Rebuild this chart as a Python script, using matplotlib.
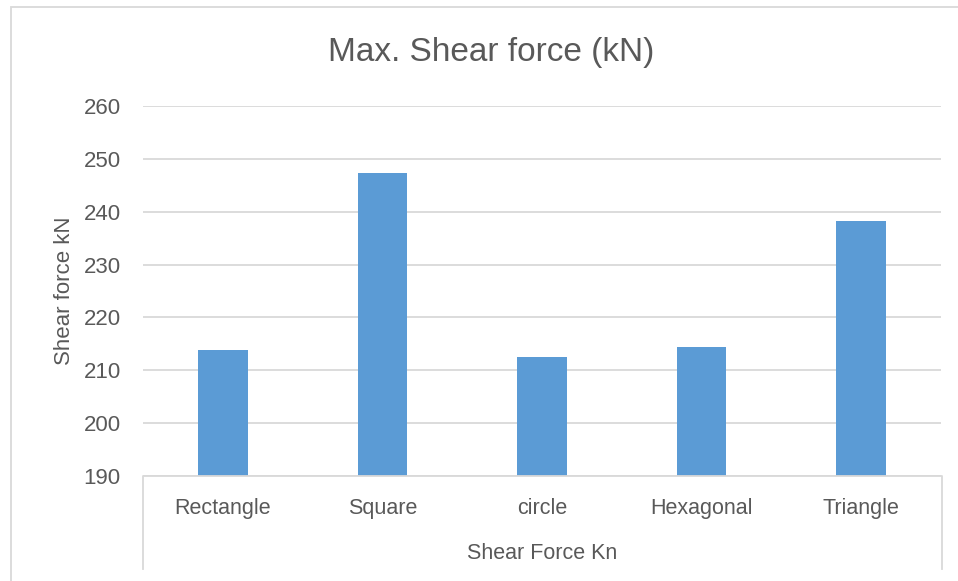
import matplotlib.pyplot as plt
from matplotlib.patches import Rectangle
from matplotlib.lines import Line2D
from matplotlib import font_manager

shapes = ['Rectangle', 'Square', 'circle', 'Hexagonal', 'Triangle']
shear = [213.8, 247.3, 212.5, 214.4, 238.2]
yticks = [190, 200, 210, 220, 230, 240, 250, 260]

names = {f.name for f in font_manager.fontManager.ttflist}
fam = 'Liberation Sans Narrow' if 'Liberation Sans Narrow' in names else 'Liberation Sans'
plt.rcParams['font.family'] = [fam, 'DejaVu Sans']

txt = '#595959'
grid = '#d9d9d9'
W, H = 958, 581

fig = plt.figure(figsize=(W / 100, H / 100), dpi=100)
ax = fig.add_axes([143 / W, 1 - 476 / H, (941 - 143) / W, (476 - 106) / H])

x = range(len(shapes))
ax.bar(x, shear, width=0.31, color='#5b9bd5', zorder=3)
ax.set_xlim(-0.5, len(shapes) - 0.5)
ax.set_ylim(190, 260)
ax.set_yticks(yticks)
ax.set_yticklabels([str(t) for t in yticks], fontsize=16, color=txt)
ax.set_xticks(list(x))
ax.set_xticklabels(shapes, fontsize=15.5, color=txt)
ax.tick_params(axis='y', length=0, pad=16)
ax.tick_params(axis='x', length=0, pad=16)
ax.grid(axis='y', color=grid, lw=1.3, zorder=0)
for s in ax.spines.values():
    s.set_visible(False)

ax.set_ylabel('Shear force kN', fontsize=16, color=txt, labelpad=6)
ax.set_xlabel('Shear Force Kn', fontsize=15.5, color=txt, labelpad=17)
fig.text(491 / W, 1 - 52 / H, 'Max. Shear force (kN)', fontsize=24,
         color=txt, ha='center', va='center')

# category axis box
def fline(xs, ys):
    fig.add_artist(Line2D([v / W for v in xs], [1 - v / H for v in ys],
                          color=grid, lw=1.3))

fline([143, 143, 942, 942], [569, 476, 476, 569])

# chart border
fig.add_artist(Rectangle((11 / W, 1 - 582 / H), (960 - 11) / W, (582 - 7) / H,
                         fill=False, edgecolor=grid, lw=1.3))

fig.savefig('out.png', dpi=100)
